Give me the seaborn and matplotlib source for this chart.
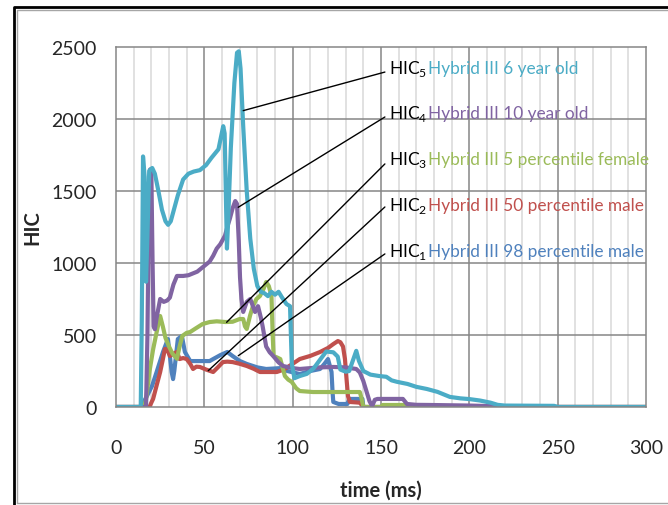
import numpy as np
import pandas as pd
import matplotlib
matplotlib.use("Agg")
import matplotlib.pyplot as plt
from matplotlib.lines import Line2D
import seaborn as sns

# HIC curves (time in ms, HIC)
t_6yo = [0, 14, 14.6, 15.3, 16.2, 17.0, 17.8, 18.8, 20.5, 22, 24, 26, 28, 29.5, 31, 33, 35, 38, 41, 44,
         47.5, 51, 54, 56, 58, 59.5, 60.7, 61.5, 62.3, 62.8, 63.5, 65, 67, 68.5, 69.5, 70.5, 72, 74, 76, 78,
         80, 82, 84, 86, 88, 90, 92, 94, 96.5, 98.5, 99.5, 101, 104, 108, 112, 115, 119, 123, 125.5, 127,
         130, 132, 134, 136, 137.5, 140, 144, 149, 153, 156, 159, 165, 170, 176, 182, 189, 195, 200, 206,
         212, 216, 220, 248, 250, 300]
hic_6yo = [0, 0, 600, 1740, 1600, 870, 1200, 1640, 1660, 1620, 1500, 1370, 1290, 1265, 1290, 1380, 1470,
           1580, 1620, 1635, 1645, 1680, 1730, 1760, 1790, 1880, 1950, 1900, 1400, 1100, 1300, 1800, 2250,
           2460, 2470, 2350, 1950, 1500, 1170, 960, 840, 800, 790, 770, 800, 780, 800, 760, 715, 700, 300,
           200, 215, 230, 270, 320, 385, 380, 350, 260, 245, 250, 320, 390, 320, 250, 225, 215, 210, 185,
           175, 160, 140, 125, 105, 70, 60, 55, 45, 30, 15, 10, 8, 0, 0]

t_10yo = [0, 17, 17.8, 18.5, 19.3, 20, 20.7, 21.3, 22, 23, 25, 27, 29, 30.5, 32.5, 34.5, 38, 41, 44, 46,
          48, 50.5, 53, 55, 57, 59, 61.7, 63, 64.5, 66, 67.5, 68.5, 69.5, 70.2, 71, 72, 74, 76, 77.5, 78.7,
          80.4, 82, 83, 85, 87, 89, 92, 94.5, 100, 104, 110, 115, 123, 130, 136, 138, 140, 142, 143.5, 145,
          146.5, 148, 155, 162.4, 164.7, 170, 178, 200, 216, 217, 300]
hic_10yo = [0, 0, 500, 1300, 1650, 1640, 1000, 560, 540, 620, 750, 730, 740, 760, 850, 910, 910, 915,
            930, 940, 960, 985, 1010, 1050, 1100, 1130, 1190, 1250, 1310, 1380, 1430, 1410, 1150, 900, 750,
            660, 730, 750, 700, 660, 700, 620, 560, 420, 380, 354, 310, 285, 270, 264, 270, 275, 278, 275,
            264, 240, 180, 100, 40, 7, 50, 56, 56, 56, 21, 15, 14, 10, 5, 0, 0]

t_5f = [0, 16, 17, 19, 21, 23, 25, 26.5, 28, 30, 32, 34.5, 36, 37.5, 40, 42, 45, 49, 53, 57, 62, 66, 70,
        72, 73, 74, 76, 77.5, 79.5, 81.5, 83.5, 85, 86.5, 88, 88.7, 89.2, 91, 93, 95.6, 97.5, 99.5, 102,
        104, 111.5, 125, 138, 139, 140, 150, 151, 165, 166, 300]
hic_5f = [0, 0, 50, 250, 400, 520, 632, 560, 480, 420, 370, 335, 420, 493, 515, 521, 545, 576, 590, 595,
          590, 592, 611, 611, 560, 542, 640, 700, 750, 771, 820, 868, 840, 771, 500, 354, 345, 333, 215,
          190, 174, 130, 111, 104, 104, 104, 60, 0, 0, 14, 14, 0, 0]

t_50m = [0, 19, 20, 21, 23, 25, 26.5, 27.7, 29, 30.5, 32.5, 34.5, 36, 38, 40, 42, 43.6, 45.5, 47.5, 51,
         55, 58, 60.5, 63, 66, 70, 74, 78, 81.5, 87, 91, 95, 100, 104, 110, 115.5, 120, 123, 125.6, 127,
         128.5, 129.6, 130.5, 131.3, 132.4, 138, 140, 300]
hic_50m = [0, 0, 30, 56, 150, 243, 330, 403, 400, 354, 370, 382, 333, 340, 333, 300, 264, 280, 278, 260,
           243, 280, 312, 315, 312, 300, 285, 265, 243, 243, 243, 260, 300, 333, 355, 382, 410, 437, 458,
           450, 420, 333, 194, 76, 35, 30, 0, 0]

t_98m = [0, 14, 15, 17.5, 20.4, 23, 26.6, 29.4, 30.5, 31.5, 32.3, 33, 35, 37.3, 39, 42, 47.5, 53, 55, 59,
         63, 66, 70, 74, 80, 85, 93, 97, 104, 110, 115.5, 118, 120, 122, 122.6, 123, 126, 131, 132, 138,
         139.5, 140, 300]
hic_98m = [0, 0, 20, 76, 146, 243, 382, 472, 354, 243, 194, 250, 472, 493, 382, 319, 319, 319, 333, 360,
           382, 354, 320, 299, 275, 264, 270, 250, 229, 250, 264, 300, 333, 243, 100, 35, 21, 21, 56, 56,
           56, 0, 0]

series = ["Hybrid III 98 percentile male", "Hybrid III 50 percentile male",
          "Hybrid III 5 percentile female", "Hybrid III 10 year old", "Hybrid III 6 year old"]
subs = ["1", "2", "3", "4", "5"]
colors = ["#4F81BD", "#C0504D", "#9BBB59", "#8064A2", "#4BACC6"]
times = [t_98m, t_50m, t_5f, t_10yo, t_6yo]
values = [hic_98m, hic_50m, hic_5f, hic_10yo, hic_6yo]

df = pd.concat([pd.DataFrame({"time": t, "HIC": v, "dummy": name})
                for t, v, name in zip(times, values, series)], ignore_index=True)

sns.set_style("white")
plt.rcParams["font.family"] = ["Lato", "DejaVu Sans"]
plt.rcParams["mathtext.fontset"] = "custom"
plt.rcParams["mathtext.rm"] = "Lato"

fig = plt.figure(figsize=(6.68, 5.06), dpi=100)
ax = fig.add_axes([116 / 668, 1 - 408 / 506, 530 / 668, 360 / 506])

# grid like excel: light minor verticals, darker majors
ax.set_axisbelow(True)
for x in range(10, 300, 10):
    ax.axvline(x, color="#868686" if x % 50 == 0 else "#D9D9D9", lw=1.1, zorder=0)
for y in range(500, 2500, 500):
    ax.axhline(y, color="#868686", lw=1.1, zorder=0)

sns.lineplot(data=df, x="time", y="HIC", hue="dummy", palette=colors, hue_order=series,
             estimator=None, sort=False, lw=3, legend=False, ax=ax)

ax.set_xlim(0, 300)
ax.set_ylim(0, 2500)
ax.set_xticks(range(0, 301, 50))
ax.set_yticks(range(0, 2501, 500))
ax.tick_params(axis="x", length=0, pad=23, labelsize=14)
ax.tick_params(axis="y", length=0, pad=14, labelsize=14)
for s in ax.spines.values():
    s.set_color("#868686")
    s.set_linewidth(1.1)
ax.set_xlabel("time (ms)", fontsize=14.5, fontweight="bold", labelpad=17)
ax.set_ylabel("HIC", fontsize=14.5, fontweight="bold", labelpad=6)

# leader lines and labels
curve_pts = [(69.2, 356), (52.2, 252), (62.6, 588), (69.2, 1387), (72.0, 2058)]
line_ends = [(152.2, 1063), (152.2, 1389), (152.2, 1688), (152.2, 2014), (152.2, 2326)]
baselines = [1049, 1368, 1688, 2007, 2317]
for i in range(5):
    ax.annotate("", xy=curve_pts[i], xytext=line_ends[i],
                arrowprops=dict(arrowstyle="-", color="black", lw=1, shrinkA=0, shrinkB=0))
    ax.text(154.5, baselines[i], r"HIC$_\mathrm{" + subs[i] + "}$", color="black",
            fontsize=12.5, va="baseline", ha="left")
    ax.text(176.5, baselines[i], series[i], color=colors[i], fontsize=12.4,
            va="baseline", ha="left")

# chart frame
fig.add_artist(Line2D([13.5 / 668, 13.5 / 668, 1], [0, 1 - 7.5 / 506, 1 - 7.5 / 506],
                      transform=fig.transFigure, color="black", lw=2))
fig.add_artist(Line2D([16.5 / 668, 16.5 / 668, 1], [2 / 506, 1 - 10.5 / 506, 1 - 10.5 / 506],
                      transform=fig.transFigure, color="#A6A6A6", lw=1))
fig.add_artist(Line2D([16.5 / 668, 1], [2 / 506, 2 / 506],
                      transform=fig.transFigure, color="#A6A6A6", lw=1))

fig.savefig("out.png", dpi=100)
